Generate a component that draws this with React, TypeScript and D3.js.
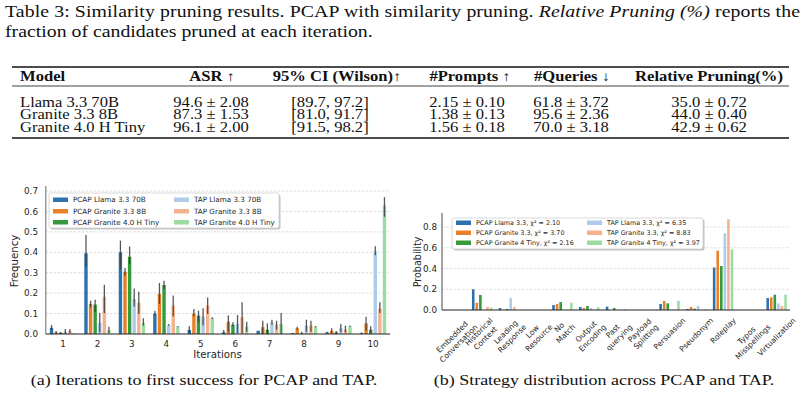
import React from "react";
import * as d3 from "d3";

// ---------- Table data ----------
const captionStart = "Table 3: Similarity pruning results. PCAP with similarity pruning. ";
const captionItalic = "Relative Pruning (%)";
const captionEnd = " reports the";
const captionLine2 = "fraction of candidates pruned at each iteration.";

const tableHeaders = ["Model", "ASR ↑", "95% CI (Wilson)↑", "#Prompts ↑", "#Queries ↓", "Relative Pruning(%)"];
const tableModels = ["Llama 3.3 70B", "Granite 3.3 8B", "Granite 4.0 H Tiny"];
const tableASR = ["94.6 ± 2.08", "87.3 ± 1.53", "96.1 ± 2.00"];
const tableCI = ["[89.7, 97.2]", "[81.0, 91.7]", "[91.5, 98.2]"];
const tablePrompts = ["2.15 ± 0.10", "1.38 ± 0.13", "1.56 ± 0.18"];
const tableQueries = ["61.8 ± 3.72", "95.6 ± 2.36", "70.0 ± 3.18"];
const tablePruning = ["35.0 ± 0.72", "44.0 ± 0.40", "42.9 ± 0.62"];

// ---------- Chart (a) data ----------
const iterations = ["1", "2", "3", "4", "5", "6", "7", "8", "9", "10"];
const seriesA = [
  "PCAP Llama 3.3 70B",
  "PCAP Granite 3.3 8B",
  "PCAP Granite 4.0 H Tiny",
  "TAP Llama 3.3 70B",
  "TAP Granite 3.3 8B",
  "TAP Granite 4.0 H Tiny",
];
const freqPcapLlama = [0.03, 0.395, 0.40, 0.10, 0.02, 0.008, 0.016, 0.005, 0.008, 0.003];
const freqPcapGranite33 = [0.008, 0.147, 0.305, 0.197, 0.10, 0.06, 0.033, 0.028, 0.015, 0.052];
const freqPcapGranite40 = [0.006, 0.144, 0.378, 0.24, 0.09, 0.046, 0.021, 0.003, 0.008, 0.021];
const freqTapLlama = [0.011, 0.055, 0.171, 0.044, 0.085, 0.05, 0.057, 0.041, 0.028, 0.405];
const freqTapGranite33 = [0.015, 0.183, 0.153, 0.139, 0.139, 0.082, 0.046, 0.041, 0.021, 0.125];
const freqTapGranite40 = [0.004, 0.02, 0.054, 0.036, 0.077, 0.036, 0.05, 0.036, 0.038, 0.63];

const lowPcapLlama = [0.02, 0.33, 0.318, 0.09, 0.005, 0, 0.016, 0.005, 0.005, 0];
const highPcapLlama = [0.044, 0.485, 0.457, 0.114, 0.038, 0.02, 0.016, 0.005, 0.011, 0.008];
const lowPcapGranite33 = [0, 0.13, 0.285, 0.147, 0.086, 0.011, 0, 0.021, 0.005, 0.016];
const highPcapGranite33 = [0.015, 0.163, 0.323, 0.25, 0.122, 0.09, 0.065, 0.036, 0.028, 0.085];
const lowPcapGranite40 = [0, 0.106, 0.343, 0.22, 0.057, 0.038, 0, 0, 0, 0.005];
const highPcapGranite40 = [0.01, 0.168, 0.429, 0.261, 0.114, 0.057, 0.052, 0.011, 0.015, 0.038];
const lowTapLlama = [0, 0.008, 0.135, 0.041, 0.041, 0.005, 0.046, 0.011, 0.008, 0.385];
const highTapLlama = [0.025, 0.103, 0.223, 0.049, 0.126, 0.093, 0.07, 0.07, 0.049, 0.43];
const lowTapGranite33 = [0.005, 0.103, 0.098, 0.086, 0.098, 0.005, 0.021, 0.011, 0.008, 0.103];
const highTapGranite33 = [0.024, 0.241, 0.207, 0.188, 0.179, 0.155, 0.065, 0.065, 0.041, 0.155];
const lowTapGranite40 = [0.004, 0.005, 0.041, 0.034, 0.073, 0.011, 0, 0.033, 0.035, 0.574];
const highTapGranite40 = [0.004, 0.036, 0.077, 0.039, 0.082, 0.06, 0.103, 0.039, 0.041, 0.67];

const freqValues = [freqPcapLlama, freqPcapGranite33, freqPcapGranite40, freqTapLlama, freqTapGranite33, freqTapGranite40];
const freqLow = [lowPcapLlama, lowPcapGranite33, lowPcapGranite40, lowTapLlama, lowTapGranite33, lowTapGranite40];
const freqHigh = [highPcapLlama, highPcapGranite33, highPcapGranite40, highTapLlama, highTapGranite33, highTapGranite40];
const freqTicks = [0, 0.1, 0.2, 0.3, 0.4, 0.5, 0.6, 0.7];

// ---------- Chart (b) data ----------
const strategies = [
  "Embedded\nConversation",
  "Historical\nContext",
  "Leading\nResponse",
  "Low\nResource",
  "No\nMatch",
  "Output\nEncoding",
  "Past\nquerying",
  "Payload\nSplitting",
  "Persuasion",
  "Pseudonym",
  "Roleplay",
  "Typos\nMisspellings",
  "Virtualization",
];
const seriesB = [
  "PCAP Llama 3.3, χ² = 2.10",
  "PCAP Granite 3.3, χ² = 3.70",
  "PCAP Granite 4 Tiny, χ² = 2.16",
  "TAP Llama 3.3, χ² = 6.35",
  "TAP Granite 3.3, χ² = 8.83",
  "TAP Granite 4 Tiny, χ² = 3.97",
];
const probPcapLlama = [0, 0.2, 0.019, 0, 0.048, 0.029, 0.032, 0, 0.058, 0.01, 0.41, 0, 0.116];
const probPcapGranite33 = [0, 0.07, 0, 0, 0.058, 0.019, 0, 0, 0.087, 0.029, 0.572, 0, 0.122];
const probPcapGranite4 = [0, 0.145, 0.01, 0, 0.077, 0.039, 0.019, 0, 0.064, 0.013, 0.424, 0, 0.148];
const probTapLlama = [0, 0, 0.116, 0, 0, 0.019, 0, 0, 0, 0.039, 0.739, 0, 0.064];
const probTapGranite33 = [0, 0.029, 0.029, 0, 0, 0, 0, 0, 0, 0, 0.874, 0, 0.039];
const probTapGranite4 = [0, 0.022, 0, 0, 0.07, 0.026, 0.007, 0, 0.087, 0.006, 0.585, 0, 0.148];
const probValues = [probPcapLlama, probPcapGranite33, probPcapGranite4, probTapLlama, probTapGranite33, probTapGranite4];
const probTicks = [0, 0.2, 0.4, 0.6, 0.8];

const colors = ["#2d72ad", "#ea8027", "#36993b", "#aecbeb", "#f4b28e", "#9cdca2"];

const SERIF = "'Liberation Serif', 'Times New Roman', serif";
const SANS = "'DejaVu Sans', sans-serif";
const SX = 1.2; // horizontal stretch of the serif texts

let _ctx: CanvasRenderingContext2D | null = null;
function textWidth(t: string, font: string): number {
  if (!_ctx) _ctx = document.createElement("canvas").getContext("2d");
  if (!_ctx) return t.length * 4;
  _ctx.font = font;
  return _ctx.measureText(t).width;
}

function SText({ x, y, sx = SX, anchor = "start", children, ...rest }: any) {
  return (
    <text transform={`translate(${x},${y}) scale(${sx},1)`} textAnchor={anchor} fontFamily={SERIF} fill="#111" {...rest}>
      {children}
    </text>
  );
}

function Table() {
  const fs = 13.6;
  const sx = 1.22;
  const headerCx = [20, 212, 337, 470, 572, 709];
  const valueCx = [20, 211, 330, 467, 571, 709];
  const cols = [tableModels, tableASR, tableCI, tablePrompts, tableQueries, tablePruning];
  const rowY = [106.5, 119, 131.5];
  return (
    <g>
      <SText x={5} y={17} fontSize={16.5} textLength={795 / SX} lengthAdjust="spacing">
        {captionStart}
        <tspan fontStyle="italic">{captionItalic}</tspan>
        {captionEnd}
      </SText>
      <SText x={5} y={37} fontSize={16.5}>
        {captionLine2}
      </SText>
      <line x1={12} x2={789} y1={67} y2={67} stroke="#111" strokeWidth={1.4} />
      <line x1={12} x2={789} y1={86} y2={86} stroke="#111" strokeWidth={0.8} />
      <line x1={12} x2={789} y1={138} y2={138} stroke="#111" strokeWidth={1.4} />
      {tableHeaders.map((h, i) => (
        <SText key={h} x={headerCx[i]} y={81} sx={sx} fontWeight="bold" fontSize={fs} anchor={i === 0 ? "start" : "middle"}>
          {h}
        </SText>
      ))}
      {cols.map((col, ci) =>
        col.map((v, ri) => (
          <SText key={ci + "-" + ri} x={valueCx[ci]} y={rowY[ri]} sx={sx} fontSize={fs} anchor={ci === 0 ? "start" : "middle"}>
            {v}
          </SText>
        ))
      )}
    </g>
  );
}

function Legend({ x, y, w, h, names, col2x, rowYs, fs }: any) {
  return (
    <g>
      <rect x={x + 1.5} y={y + 1.5} width={w} height={h} rx={2} fill="#999" opacity={0.6} />
      <rect x={x} y={y} width={w} height={h} rx={2} fill="#fff" stroke="#cfcfcf" strokeWidth={0.8} />
      {names.map((n: string, i: number) => {
        const cx = i < 3 ? x + 4 : col2x;
        const cy = rowYs[i % 3];
        return (
          <g key={n}>
            <rect x={cx} y={cy - 2} width={15} height={4.5} fill={colors[i]} />
            <text x={cx + 20} y={cy + fs * 0.36} fontFamily={SANS} fontSize={fs} fill="#262626">
              {n}
            </text>
          </g>
        );
      })}
    </g>
  );
}

function ChartA() {
  const x = d3.scaleBand<string>().domain(iterations).range([45.8, 390.2]).padding(0);
  const bw = x.bandwidth();
  const inner = d3.scaleBand<string>().domain(seriesA).range([0.1 * bw, 0.9 * bw]);
  const slot = inner.bandwidth();
  const y = d3.scaleLinear().domain([0, 0.7]).range([334, 191]);
  const barW = slot * 0.74;
  return (
    <g>
      {freqTicks.slice(1).map((t) => (
        <line key={t} x1={45.8} x2={390.2} y1={y(t)} y2={y(t)} stroke="#d4d4d4" strokeWidth={0.8} strokeDasharray="2.5,1.5" />
      ))}
      {seriesA.map((s, si) =>
        iterations.map((it, ii) => {
          const bx = (x(it) as number) + (inner(s) as number) + (slot - barW) / 2;
          const v = freqValues[si][ii];
          return <rect key={s + it} x={bx} y={y(v)} width={barW} height={y(0) - y(v)} fill={colors[si]} />;
        })
      )}
      {seriesA.map((s, si) =>
        iterations.map((it, ii) => {
          const cx = (x(it) as number) + (inner(s) as number) + slot / 2;
          const lo = freqLow[si][ii];
          const hi = freqHigh[si][ii];
          if (hi - lo < 0.002) return null;
          return (
            <line key={"e" + s + it} x1={cx} x2={cx} y1={y(lo)} y2={y(hi)} stroke="#3c3c3c" strokeWidth={1.3} opacity={0.85} />
          );
        })
      )}
      <line x1={45.8} x2={45.8} y1={334} y2={186} stroke="#777" strokeWidth={1.1} />
      <line x1={45.8} x2={390.2} y1={334} y2={334} stroke="#222" strokeWidth={1.2} />
      {freqTicks.map((t) => (
        <text key={t} x={38} y={y(t) + 3.2} fontFamily={SANS} fontSize={8.8} textAnchor="end" fill="#262626">
          {t.toFixed(1)}
        </text>
      ))}
      {iterations.map((it) => (
        <text key={it} x={(x(it) as number) + bw / 2} y={346.5} fontFamily={SANS} fontSize={8.8} textAnchor="middle" fill="#262626">
          {it}
        </text>
      ))}
      <text x={217.5} y={357.5} fontFamily={SANS} fontSize={10.2} textAnchor="middle" fill="#262626">
        Iterations
      </text>
      <text transform="translate(17.5,261) rotate(-90)" fontFamily={SANS} fontSize={10.2} textAnchor="middle" fill="#262626">
        Frequency
      </text>
      <Legend x={49} y={193} w={230} h={35} names={seriesA} col2x={174} rowYs={[199.5, 211, 222]} fs={7.2} />
      <SText x={204} y={385} fontSize={15} anchor="middle">
        (a) Iterations to first success for PCAP and TAP.
      </SText>
    </g>
  );
}

function ChartB() {
  const x0 = 442, x1 = 790;
  const x = d3.scaleBand<string>().domain(strategies).range([x0, x1]).padding(0);
  const bw = x.bandwidth();
  const inner = d3.scaleBand<string>().domain(seriesB).range([0.1 * bw, 0.9 * bw]);
  const slot = inner.bandwidth();
  const y = d3.scaleLinear().domain([0, 0.8]).range([310, 227]);
  const barW = slot * 0.72;
  const lfs = 7.6;
  const lineH = lfs * 1.2;
  return (
    <g>
      {probTicks.slice(1).map((t) => (
        <line key={t} x1={x0} x2={x1} y1={y(t)} y2={y(t)} stroke="#dcdcdc" strokeWidth={0.9} strokeDasharray="2.5,1.5" />
      ))}
      {seriesB.map((s, si) =>
        strategies.map((c, ci) => {
          const v = probValues[si][ci];
          if (v <= 0) return null;
          const bx = (x(c) as number) + (inner(s) as number) + (slot - barW) / 2;
          return <rect key={s + c} x={bx} y={y(v)} width={barW} height={y(0) - y(v)} fill={colors[si]} />;
        })
      )}
      <line x1={x0} x2={x0} y1={310} y2={213} stroke="#666" strokeWidth={1.2} />
      <line x1={x0} x2={x1} y1={310} y2={310} stroke="#222" strokeWidth={1.2} />
      {probTicks.map((t) => (
        <text key={t} x={437} y={y(t) + 3.2} fontFamily={SANS} fontSize={8.8} textAnchor="end" fill="#262626">
          {t.toFixed(1)}
        </text>
      ))}
      {strategies.map((c) => {
        const lines = c.split("\n");
        const w = Math.max(...lines.map((l) => textWidth(l, `${lfs}px DejaVu Sans`)));
        const h = lines.length * lineH;
        const half = (w + h) / (2 * Math.SQRT2);
        const cx = (x(c) as number) + bw / 2;
        const cy = 316 + half;
        return (
          <text
            key={c}
            transform={`translate(${cx},${cy}) rotate(-45)`}
            fontFamily={SANS}
            fontSize={lfs}
            textAnchor="middle"
            fill="#262626"
          >
            {lines.map((l, i) => (
              <tspan key={i} x={0} y={-h / 2 + (i + 0.78) * lineH}>
                {l}
              </tspan>
            ))}
          </text>
        );
      })}
      <text transform="translate(421,262) rotate(-90)" fontFamily={SANS} fontSize={9.6} textAnchor="middle" fill="#262626">
        Probability
      </text>
      <Legend x={452} y={218} w={251} h={31} names={seriesB} col2x={587} rowYs={[222.5, 232.5, 242.5]} fs={6.4} />
      <SText x={604} y={385} fontSize={15} anchor="middle">
        (b) Strategy distribution across PCAP and TAP.
      </SText>
    </g>
  );
}

export default function App() {
  return (
    <svg width={805} height={398} viewBox="0 0 805 398" style={{ display: "block", position: "absolute", left: 0, top: 0, background: "#fff" }}>
      <rect x={0} y={0} width={805} height={398} fill="#fff" />
      <Table />
      <ChartA />
      <ChartB />
    </svg>
  );
}
